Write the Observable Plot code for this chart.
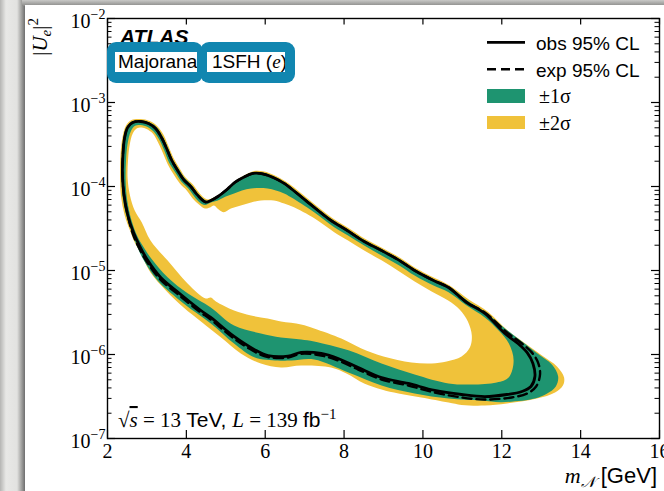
<!DOCTYPE html>
<html><head><meta charset="utf-8">
<script src="https://cdn.jsdelivr.net/npm/d3@7"></script>
<script src="https://cdn.jsdelivr.net/npm/@observablehq/plot@0.6"></script>
<style>
html,body{margin:0;padding:0;}
body{width:664px;height:491px;position:relative;overflow:hidden;background:linear-gradient(to right,#b5b5b3 0px,#e8e8e6 6px,#e2e2e0 17px,#9a9a98 22px,#6e6e6e 25px);}
#topbar{position:absolute;left:22px;top:0;width:642px;height:6px;background:linear-gradient(to bottom,#c9c9c7,#8a8a88);}
#panel{position:absolute;left:25px;top:5px;width:639px;height:486px;background:#fff;}
#panel svg{display:block;}
.hl{position:absolute;top:42px;height:41px;border-radius:9px;background:#1186b0;}
.hlin{position:absolute;top:10px;height:20px;background:#fff;overflow:hidden;white-space:nowrap;font-family:"Liberation Sans",Arial,sans-serif;font-size:19px;line-height:20px;color:#000;}
</style></head><body>
<div id="topbar"></div>
<div id="panel"></div>
<div class="hl" style="left:107px;width:96px"><div class="hlin" style="left:8px;width:79px;padding-left:3px">Majorana</div></div>
<div class="hl" style="left:200px;width:95px"><div class="hlin" style="left:7px;width:73px;padding-left:5px">1SFH (<span style="font-family:'Liberation Serif',serif;font-style:italic">e</span>)</div></div>
<script>
// ---- data: contours in (m_N [GeV], |U_e|^2) ----
const xTicks = [2, 4, 6, 8, 10, 12, 14, 16];
const yTicks = [1e-7, 1e-6, 1e-5, 1e-4, 1e-3, 1e-2];
const yTickExp = ["\u22127", "\u22126", "\u22125", "\u22124", "\u22123", "\u22122"];
const yMinor = [2e-7,3e-7,4e-7,5e-7,6e-7,7e-7,8e-7,9e-7,2e-6,3e-6,4e-6,5e-6,6e-6,7e-6,8e-6,9e-6,2e-5,3e-5,4e-5,5e-5,6e-5,7e-5,8e-5,9e-5,2e-4,3e-4,4e-4,5e-4,6e-4,7e-4,8e-4,9e-4,2e-3,3e-3,4e-3,5e-3,6e-3,7e-3,8e-3,9e-3];

const obsUpper = [[2.51,4.64e-5],[2.42,7.81e-5],[2.38,1.35e-4],[2.39,2.34e-4],[2.43,3.73e-4],[2.51,5.04e-4],[2.64,5.78e-4],[2.84,5.94e-4],[3.04,5.62e-4],[3.22,4.90e-4],[3.37,3.83e-4],[3.50,2.83e-4],[3.63,2.04e-4],[3.78,1.55e-4],[3.93,1.21e-4],[4.11,1.00e-4],[4.27,8.02e-5],[4.39,7.00e-5],[4.49,6.53e-5],[4.62,6.81e-5],[4.80,7.60e-5],[5.03,9.20e-5],[5.23,1.12e-4],[5.44,1.28e-4],[5.69,1.43e-4],[5.94,1.41e-4],[6.20,1.28e-4],[6.48,1.09e-4],[6.78,8.48e-5],[7.06,6.62e-5],[7.34,5.18e-5],[7.67,3.94e-5],[8.08,2.99e-5],[8.51,2.21e-5],[8.95,1.73e-5],[9.40,1.32e-5],[9.79,1.00e-5],[10.27,7.60e-6],[10.65,6.27e-6],[11.11,4.16e-6]];
const obsLower = [[11.57,3.08e-6],[12.08,1.78e-6],[12.41,1.35e-6],[12.64,1.06e-6],[12.79,7.81e-7],[12.84,5.47e-7],[12.74,4.16e-7],[12.51,3.63e-7],[12.13,3.34e-7],[11.57,3.16e-7],[10.98,3.34e-7],[10.30,3.73e-7],[9.63,4.52e-7],[8.95,5.32e-7],[8.36,7.00e-7],[7.85,8.95e-7],[7.42,1.03e-6],[6.91,1.06e-6],[6.58,9.59e-7],[6.07,9.72e-7],[5.72,1.15e-6],[5.21,1.64e-6],[4.62,2.76e-6],[4.37,3.34e-6],[3.86,5.18e-6],[3.35,8.25e-6],[3.02,1.32e-5],[2.81,1.98e-5],[2.66,2.83e-5]];
const expLower = [[11.57,3.16e-6],[12.13,1.83e-6],[12.51,1.35e-6],[12.76,1.06e-6],[12.92,8.02e-7],[12.97,5.78e-7],[12.87,4.16e-7],[12.64,3.43e-7],[12.25,3.08e-7],[11.57,2.91e-7],[10.98,3.08e-7],[10.30,3.53e-7],[9.63,4.27e-7],[8.95,5.04e-7],[8.36,6.62e-7],[7.85,8.48e-7],[7.42,9.72e-7],[6.91,1.02e-6],[6.58,9.20e-7],[6.07,9.32e-7],[5.70,1.10e-6],[5.19,1.57e-6],[4.60,2.65e-6],[4.35,3.20e-6],[3.84,4.97e-6],[3.33,7.91e-6],[3.00,1.27e-5],[2.79,1.90e-5],[2.64,2.75e-5]];

const band2Outer = [[2.59,2.83e-5],[2.43,4.64e-5],[2.34,7.81e-5],[2.32,1.35e-4],[2.33,2.34e-4],[2.38,3.83e-4],[2.47,5.32e-4],[2.61,6.19e-4],[2.84,6.36e-4],[3.07,6.02e-4],[3.27,5.18e-4],[3.43,4.05e-4],[3.55,2.99e-4],[3.68,2.15e-4],[3.83,1.64e-4],[3.98,1.28e-4],[4.16,1.06e-4],[4.32,8.48e-5],[4.44,7.39e-5],[4.54,7.00e-5],[4.67,7.29e-5],[4.85,8.13e-5],[5.08,9.86e-5],[5.28,1.20e-4],[5.49,1.37e-4],[5.72,1.53e-4],[5.97,1.51e-4],[6.22,1.37e-4],[6.50,1.16e-4],[6.81,9.08e-5],[7.09,7.09e-5],[7.37,5.55e-5],[7.70,4.22e-5],[8.11,3.21e-5],[8.54,2.37e-5],[8.97,1.85e-5],[9.43,1.41e-5],[9.81,1.07e-5],[10.30,8.13e-6],[10.68,6.62e-6],[11.16,4.52e-6],[11.64,3.25e-6],[12.15,1.93e-6],[12.56,1.39e-6],[13.02,9.72e-7],[13.40,7.19e-7],[13.58,5.32e-7],[13.55,4.27e-7],[13.35,3.53e-7],[12.89,2.99e-7],[12.13,2.61e-7],[11.57,2.47e-7],[10.98,2.51e-7],[10.65,2.68e-7],[9.96,3.08e-7],[9.38,3.43e-7],[8.95,3.83e-7],[8.51,4.52e-7],[8.06,5.94e-7],[7.67,7.00e-7],[6.91,7.39e-7],[6.40,7.00e-7],[5.89,7.81e-7],[5.38,1.03e-6],[4.88,1.59e-6],[4.37,2.47e-6],[3.93,3.63e-6],[3.48,5.78e-6],[3.09,9.46e-6],[2.87,1.51e-5],[2.69,2.15e-5]];
const band1Outer = [[2.62,2.83e-5],[2.47,4.64e-5],[2.38,7.81e-5],[2.36,1.35e-4],[2.37,2.34e-4],[2.41,3.78e-4],[2.50,5.18e-4],[2.62,5.97e-4],[2.84,6.10e-4],[3.06,5.78e-4],[3.25,5.04e-4],[3.40,3.94e-4],[3.53,2.91e-4],[3.65,2.10e-4],[3.81,1.59e-4],[3.96,1.25e-4],[4.14,1.03e-4],[4.29,8.25e-5],[4.42,7.19e-5],[4.52,6.72e-5],[4.65,7.00e-5],[4.82,7.81e-5],[5.05,9.46e-5],[5.26,1.15e-4],[5.46,1.32e-4],[5.70,1.47e-4],[5.96,1.45e-4],[6.21,1.32e-4],[6.49,1.12e-4],[6.80,8.71e-5],[7.08,6.81e-5],[7.36,5.32e-5],[7.69,4.05e-5],[8.09,3.08e-5],[8.53,2.28e-5],[8.96,1.78e-5],[9.42,1.35e-5],[9.80,1.03e-5],[10.28,7.81e-6],[10.66,6.45e-6],[11.14,4.33e-6],[11.59,3.16e-6],[12.05,2.10e-6],[12.51,1.43e-6],[12.94,1.00e-6],[13.27,7.60e-7],[13.43,5.47e-7],[13.37,4.16e-7],[13.15,3.43e-7],[12.84,2.99e-7],[12.00,2.71e-7],[11.49,2.83e-7],[10.65,2.99e-7],[9.79,3.43e-7],[8.95,4.27e-7],[8.11,6.10e-7],[7.24,8.71e-7],[6.66,8.48e-7],[6.32,8.48e-7],[5.72,9.28e-7],[5.21,1.35e-6],[4.62,2.34e-6],[3.93,4.05e-6],[3.27,7.60e-6],[2.92,1.32e-5],[2.71,2.15e-5]];
const band1Inner = [[2.76,2.54e-5],[2.61,3.94e-5],[2.50,6.81e-5],[2.46,1.18e-4],[2.47,2.04e-4],[2.51,3.25e-4],[2.59,4.52e-4],[2.69,5.25e-4],[2.84,5.40e-4],[3.02,5.11e-4],[3.17,4.52e-4],[3.31,3.63e-4],[3.44,2.68e-4],[3.56,1.93e-4],[3.72,1.47e-4],[3.87,1.15e-4],[4.05,9.46e-5],[4.20,7.60e-5],[4.34,6.45e-5],[4.47,6.02e-5],[4.62,6.45e-5],[4.80,6.81e-5],[5.00,7.60e-5],[5.21,8.25e-5],[5.41,8.95e-5],[5.64,9.46e-5],[5.84,9.59e-5],[6.06,9.46e-5],[6.27,8.95e-5],[6.48,8.25e-5],[6.71,7.19e-5],[6.91,6.27e-5],[7.24,4.94e-5],[7.75,3.28e-5],[8.10,2.61e-5],[8.51,1.98e-5],[8.95,1.51e-5],[9.40,1.15e-5],[9.79,8.71e-6],[10.27,6.62e-6],[10.65,5.52e-6],[11.11,3.83e-6],[11.57,2.76e-6],[11.92,1.93e-6],[12.18,1.35e-6],[12.30,8.48e-7],[12.18,5.36e-7],[11.87,4.64e-7],[11.24,4.39e-7],[10.65,4.52e-7],[9.79,5.78e-7],[8.95,7.81e-7],[8.11,1.12e-6],[7.24,1.43e-6],[6.91,1.51e-6],[6.40,1.59e-6],[5.89,1.78e-6],[5.21,2.21e-6],[4.62,3.63e-6],[4.04,5.32e-6],[3.53,8.25e-6],[3.09,1.43e-5],[2.89,1.98e-5]];
const band2Inner = [[2.87,3.73e-5],[2.69,5.18e-5],[2.57,7.81e-5],[2.51,1.25e-4],[2.52,2.04e-4],[2.56,3.08e-4],[2.64,4.27e-4],[2.74,4.90e-4],[2.87,5.04e-4],[2.99,4.83e-4],[3.15,4.27e-4],[3.27,3.43e-4],[3.40,2.54e-4],[3.53,1.83e-4],[3.68,1.39e-4],[3.83,1.09e-4],[4.01,8.95e-5],[4.16,7.19e-5],[4.32,6.10e-5],[4.47,5.47e-5],[4.60,5.62e-5],[4.70,5.94e-5],[4.82,5.32e-5],[4.95,4.94e-5],[5.13,5.47e-5],[5.38,5.94e-5],[5.64,6.45e-5],[5.89,6.81e-5],[6.22,6.81e-5],[6.48,6.27e-5],[6.73,5.67e-5],[7.04,4.77e-5],[7.33,3.94e-5],[7.75,2.86e-5],[8.10,2.28e-5],[8.51,1.73e-5],[8.95,1.32e-5],[9.40,9.72e-6],[9.79,7.39e-6],[10.22,5.62e-6],[10.64,4.39e-6],[10.93,3.43e-6],[11.14,2.47e-6],[11.24,1.68e-6],[11.19,1.21e-6],[10.98,9.46e-7],[10.60,8.25e-7],[10.22,7.81e-7],[9.71,8.02e-7],[9.00,9.46e-7],[8.44,1.18e-6],[7.93,1.55e-6],[7.24,2.04e-6],[6.91,2.28e-6],[6.40,2.47e-6],[6.06,2.68e-6],[5.64,2.91e-6],[5.21,3.34e-6],[4.75,4.27e-6],[4.62,4.77e-6],[4.49,4.64e-6],[4.03,7.00e-6],[3.52,1.32e-5],[3.09,2.28e-5]];

const obsContour = [...obsUpper, ...obsLower];
const expContour = [...obsUpper, ...expLower];

// ---- styles ----
const GREEN = "#1e9470", YELLOW = "#f0c23a";
const serif = '"Liberation Serif","Times New Roman",serif';
const sans = '"Liberation Sans",Arial,sans-serif';
const W = 639, H = 486, ML = 82, MR = 5, MT = 13, MB = 53;
const PW = W - ML - MR, PH = H - MT - MB;
const X = d => d[0], Y = d => d[1];
const closed = "catmull-rom-closed";

const chart = Plot.plot({
  width: W, height: H, marginLeft: ML, marginRight: MR, marginTop: MT, marginBottom: MB,
  x: {domain: [2, 16], axis: null},
  y: {type: "log", domain: [1e-7, 1e-2], axis: null},
  style: {background: "transparent", fontFamily: serif, color: "black", overflow: "visible"},
  marks: [
    Plot.line(band2Outer, {x: X, y: Y, curve: closed, fill: YELLOW, stroke: "none"}),
    Plot.line(band1Outer, {x: X, y: Y, curve: closed, fill: GREEN, stroke: "none"}),
    Plot.line(band1Inner, {x: X, y: Y, curve: closed, fill: YELLOW, stroke: "none"}),
    Plot.line(band2Inner, {x: X, y: Y, curve: closed, fill: "white", stroke: "none"}),
    Plot.line(expContour, {x: X, y: Y, curve: closed, stroke: "black", strokeWidth: 2.4, strokeDasharray: "9,5"}),
    Plot.line(obsContour, {x: X, y: Y, curve: closed, stroke: "black", strokeWidth: 2.8}),
    Plot.tickX(xTicks, {x: d => d, insetTop: PH - 8, stroke: "black", strokeWidth: 1.2}),
    Plot.tickX(xTicks, {x: d => d, insetBottom: PH - 6.5, stroke: "black", strokeWidth: 1.2}),
    Plot.tickY(yTicks, {y: d => d, insetRight: PW - 8, stroke: "black", strokeWidth: 1.2}),
    Plot.tickY(yTicks, {y: d => d, insetLeft: PW - 8, stroke: "black", strokeWidth: 1.2}),
    Plot.tickY(yMinor, {y: d => d, insetRight: PW - 4.5, stroke: "black", strokeWidth: 1}),
    Plot.tickY(yMinor, {y: d => d, insetLeft: PW - 4.5, stroke: "black", strokeWidth: 1}),
    Plot.frame({stroke: "black", strokeWidth: 1.4}),
    Plot.text(xTicks, {x: d => d, frameAnchor: "bottom", lineAnchor: "top", dy: 5, text: d => String(d), fontSize: 20, fontFamily: serif, fill: "black"}),
    Plot.text(yTicks, {y: d => d, frameAnchor: "left", text: () => "10", textAnchor: "end", dx: -17, dy: 3, fontSize: 20, fontFamily: serif, fill: "black"}),
    Plot.text(yTicks, {y: d => d, frameAnchor: "left", text: (d, i) => yTickExp[i], textAnchor: "start", dx: -17, dy: -4, fontSize: 14, fontFamily: serif, fill: "black"})
  ]
});
document.getElementById("panel").appendChild(chart);

const svg = d3.select(chart);
// ATLAS label
svg.append("text").attr("x", 95).attr("y", 38.5).attr("text-anchor", "start").attr("font-family", sans).attr("font-weight", "bold")
  .attr("font-style", "italic").attr("font-size", 21).text("ATLAS");

// y label
const yl = svg.append("text").attr("transform", "translate(21.5,13) rotate(-90)").attr("text-anchor", "end")
  .attr("font-family", serif).attr("font-size", 21);
yl.append("tspan").text("|");
yl.append("tspan").attr("font-style", "italic").text("U");
yl.append("tspan").attr("font-style", "italic").attr("font-size", 15).attr("dy", 4).text("e");
yl.append("tspan").attr("dy", -4).text("|");
yl.append("tspan").attr("font-size", 15).attr("dy", -9).text("2");

// x label
const xl = svg.append("text").attr("x", 632).attr("y", 478).attr("text-anchor", "end").attr("font-size", 22);
xl.append("tspan").attr("font-family", serif).attr("font-style", "italic").text("m");
xl.append("tspan").attr("font-family", serif).attr("font-style", "italic").attr("font-size", 15).attr("dy", 4).text("\u{1D4A9}");
xl.append("tspan").attr("font-family", sans).attr("dy", -4).text(" [GeV]");

// energy / luminosity label
const el = svg.append("text").attr("x", 93).attr("y", 422).attr("text-anchor", "start").attr("font-size", 21).attr("font-family", serif);
el.append("tspan").text("\u221A");
el.append("tspan").attr("font-style", "italic").attr("text-decoration", "overline").text("s");
el.append("tspan").text(" = 13 ");
el.append("tspan").attr("font-family", sans).text("TeV, ");
el.append("tspan").attr("font-style", "italic").text("L");
el.append("tspan").text(" = 139 ");
el.append("tspan").attr("font-family", sans).text("fb");
el.append("tspan").attr("font-size", 15).attr("dy", -8).text("\u22121");

// legend
const lg = svg.append("g").attr("text-anchor", "start");
lg.append("line").attr("x1", 462).attr("x2", 500).attr("y1", 37.3).attr("y2", 37.3).attr("stroke", "black").attr("stroke-width", 2.8);
lg.append("line").attr("x1", 462).attr("x2", 500).attr("y1", 64.3).attr("y2", 64.3).attr("stroke", "black").attr("stroke-width", 2.6).attr("stroke-dasharray", "9,5");
lg.append("rect").attr("x", 462).attr("y", 84).attr("width", 38).attr("height", 14).attr("fill", GREEN);
lg.append("rect").attr("x", 462).attr("y", 111).attr("width", 38).attr("height", 13).attr("fill", YELLOW);
lg.append("text").attr("x", 511).attr("y", 44.5).attr("font-family", sans).attr("font-size", 19).text("obs 95% CL");
lg.append("text").attr("x", 511).attr("y", 71.5).attr("font-family", sans).attr("font-size", 19).text("exp 95% CL");
lg.append("text").attr("x", 514).attr("y", 98).attr("font-family", serif).attr("font-size", 20).text("\u00B11\u03C3");
lg.append("text").attr("x", 514).attr("y", 124.5).attr("font-family", serif).attr("font-size", 20).text("\u00B12\u03C3");
</script>
</body></html>
